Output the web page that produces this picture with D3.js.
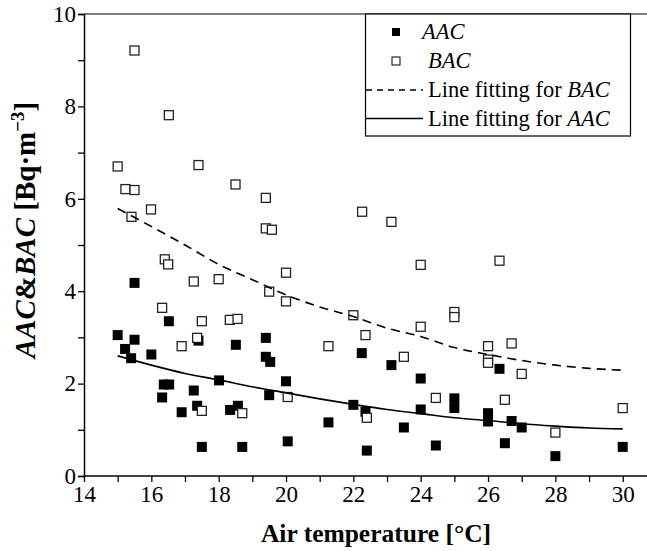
<!DOCTYPE html>
<html>
<head>
<meta charset="utf-8">
<script src="https://cdn.jsdelivr.net/npm/d3@7"></script>
<style>
  body { margin: 0; background: #fff; }
</style>
</head>
<body>
<div id="chart"></div>
<script>
var aacTemp = [15.5, 16.52, 15.0, 15.5, 15.22, 15.4, 16.0, 17.4, 18.51, 19.4, 19.4, 19.53, 16.37, 16.53, 16.32, 17.26, 18.01, 16.9, 17.36, 18.34, 18.57, 19.5, 17.5, 18.7, 20.0, 20.05, 22.25, 23.13, 24.0, 22.0, 22.36, 21.26, 23.5, 24.0, 22.4, 24.45, 25.0, 25.0, 26.34, 26.0, 26.0, 26.7, 27.0, 26.5, 28.0, 30.0];
var aacConc = [4.18, 3.35, 3.05, 2.95, 2.75, 2.55, 2.63, 2.93, 2.84, 2.99, 2.58, 2.47, 1.98, 1.98, 1.70, 1.85, 2.07, 1.38, 1.52, 1.43, 1.52, 1.75, 0.63, 0.63, 2.05, 0.75, 2.66, 2.40, 2.11, 1.54, 1.39, 1.16, 1.05, 1.44, 0.55, 0.66, 1.68, 1.47, 2.32, 1.36, 1.18, 1.19, 1.05, 0.71, 0.43, 0.63];

var bacTemp = [15.5, 16.52, 15.0, 17.4, 15.23, 15.5, 18.5, 15.99, 15.41, 19.4, 19.4, 19.58, 22.26, 23.13, 16.4, 16.5, 17.26, 18.0, 19.5, 16.32, 17.5, 18.33, 18.56, 17.36, 16.9, 17.5, 18.7, 20.0, 20.0, 24.0, 22.0, 22.36, 24.0, 25.0, 25.0, 21.26, 23.5, 20.05, 22.4, 24.45, 26.34, 26.0, 26.0, 26.0, 26.7, 27.0, 26.5, 28.0, 30.0];
var bacConc = [9.21, 7.81, 6.70, 6.73, 6.21, 6.19, 6.31, 5.77, 5.61, 6.02, 5.36, 5.33, 5.72, 5.50, 4.69, 4.58, 4.21, 4.26, 3.99, 3.64, 3.35, 3.38, 3.40, 2.99, 2.81, 1.41, 1.36, 4.40, 3.78, 4.57, 3.48, 3.05, 3.23, 3.55, 3.44, 2.81, 2.58, 1.71, 1.26, 1.69, 4.66, 2.81, 2.52, 2.45, 2.87, 2.21, 1.65, 0.94, 1.47];

// fitted curves, read at each degree
var fitTemp = [15, 16, 17, 18, 19, 20, 21, 22, 23, 24, 25, 26, 27, 28, 29, 30];
var bacFit = [5.79, 5.40, 5.00, 4.58, 4.25, 3.92, 3.66, 3.45, 3.20, 3.02, 2.78, 2.63, 2.50, 2.40, 2.33, 2.29];
var aacFit = [2.60, 2.40, 2.22, 2.08, 1.93, 1.80, 1.67, 1.55, 1.44, 1.35, 1.26, 1.20, 1.13, 1.08, 1.04, 1.02];

var xTicks = [14, 16, 18, 20, 22, 24, 26, 28, 30];
var yTicks = [0, 2, 4, 6, 8, 10];

var draw = function() {
  var width = 647, height = 551;
  var left = 84, plotTop = 14, bottom = 476;
  var serif = "'Liberation Serif', 'Times New Roman', Times, serif";

  var svg = d3.select("#chart").append("svg")
    .attr("width", width)
    .attr("height", height)
    .style("font-family", serif);

  var x = d3.scaleLinear().domain([14, 31]).range([left, left + 17 * 33.67]);
  var y = d3.scaleLinear().domain([0, 10]).range([bottom, plotTop]);

  // top frame line
  svg.append("line")
    .attr("x1", left).attr("x2", width)
    .attr("y1", plotTop).attr("y2", plotTop)
    .attr("stroke", "#555")
    .attr("stroke-width", 1.5);

  // axes
  var xAxis = svg.append("g")
    .attr("transform", "translate(0," + bottom + ")")
    .call(d3.axisBottom(x).tickValues(d3.range(14, 32, 1)).tickSize(6).tickFormat(function(d) {
      return xTicks.indexOf(d) >= 0 ? d : "";
    }));
  xAxis.attr("font-family", null).attr("font-size", null);
  xAxis.select(".domain").attr("stroke-width", 1.5).attr("d", "M" + left + ",0H" + width);
  xAxis.selectAll(".tick line").attr("stroke-width", 1.3);
  xAxis.selectAll(".tick text")
    .style("font-family", serif)
    .style("font-size", "23px")
    .attr("dy", "0.8em")
    .attr("y", 8);

  var yAxis = svg.append("g")
    .attr("transform", "translate(" + left + ",0)")
    .call(d3.axisLeft(y).tickValues(d3.range(0, 11, 1)).tickSize(6).tickFormat(function(d) {
      return yTicks.indexOf(d) >= 0 ? d : "";
    }));
  yAxis.attr("font-family", null).attr("font-size", null);
  yAxis.select(".domain").attr("stroke-width", 1.5);
  yAxis.selectAll(".tick line").attr("stroke-width", 1.3);
  yAxis.selectAll(".tick text")
    .style("font-family", serif)
    .style("font-size", "23px")
    .attr("x", -8);

  // points
  var aac = d3.zip(aacTemp, aacConc);
  var bac = d3.zip(bacTemp, bacConc);

  svg.append("g").selectAll("rect")
    .data(aac)
    .enter()
    .append("rect")
    .attr("x", function(d) { return x(d[0]) - 5; })
    .attr("y", function(d) { return y(d[1]) - 5; })
    .attr("width", 10)
    .attr("height", 10)
    .attr("fill", "#000");

  svg.append("g").selectAll("rect")
    .data(bac)
    .enter()
    .append("rect")
    .attr("x", function(d) { return x(d[0]) - 4.5; })
    .attr("y", function(d) { return y(d[1]) - 4.5; })
    .attr("width", 9)
    .attr("height", 9)
    .attr("fill", "#fff")
    .attr("stroke", "#222")
    .attr("stroke-width", 1.3);

  // fit lines
  var line = d3.line()
    .x(function(d) { return x(d[0]); })
    .y(function(d) { return y(d[1]); })
    .curve(d3.curveMonotoneX);

  svg.append("path")
    .attr("d", line(d3.zip(fitTemp, bacFit)))
    .attr("fill", "none")
    .attr("stroke", "#000")
    .attr("stroke-width", 1.6)
    .attr("stroke-dasharray", "9,6");

  svg.append("path")
    .attr("d", line(d3.zip(fitTemp, aacFit)))
    .attr("fill", "none")
    .attr("stroke", "#000")
    .attr("stroke-width", 1.6);

  // legend
  var legend = svg.append("g");
  legend.append("rect")
    .attr("x", 365.5).attr("y", plotTop)
    .attr("width", 265).attr("height", 122)
    .attr("fill", "#fff")
    .attr("stroke", "#000")
    .attr("stroke-width", 1.2);

  legend.append("rect")
    .attr("x", 392).attr("y", 28)
    .attr("width", 8).attr("height", 8)
    .attr("fill", "#000");
  legend.append("rect")
    .attr("x", 392).attr("y", 57)
    .attr("width", 8).attr("height", 8)
    .attr("fill", "#fff").attr("stroke", "#000").attr("stroke-width", 1);
  legend.append("line")
    .attr("x1", 366).attr("x2", 423).attr("y1", 90).attr("y2", 90)
    .attr("stroke", "#000").attr("stroke-width", 1.4).attr("stroke-dasharray", "6,5");
  legend.append("line")
    .attr("x1", 366).attr("x2", 423).attr("y1", 118.5).attr("y2", 118.5)
    .attr("stroke", "#000").attr("stroke-width", 1.4);

  var legendRows = [
    { y: 39, x: 422, plain: "", ital: "AAC" },
    { y: 68, x: 428, plain: "", ital: "BAC" },
    { y: 97, x: 428, plain: "Line fitting for ", ital: "BAC" },
    { y: 126, x: 428, plain: "Line fitting for ", ital: "AAC" }
  ];
  legendRows.forEach(function(r) {
    var t = legend.append("text")
      .attr("x", r.x).attr("y", r.y)
      .style("font-family", serif)
      .style("font-size", "22.5px");
    if (r.plain) t.append("tspan").text(r.plain);
    t.append("tspan").style("font-style", "italic").text(r.ital);
  });

  // axis titles
  svg.append("text")
    .attr("x", 376).attr("y", 542)
    .attr("text-anchor", "middle")
    .style("font-family", serif)
    .style("font-size", "25.5px")
    .style("font-weight", "bold")
    .text("Air temperature [°C]");

  var yt = svg.append("text")
    .attr("transform", "translate(35,230) rotate(-90)")
    .attr("text-anchor", "middle")
    .style("font-family", serif)
    .style("font-size", "29px")
    .style("font-weight", "bold");
  yt.append("tspan").style("font-style", "italic").text("AAC");
  yt.append("tspan").text("&");
  yt.append("tspan").style("font-style", "italic").text("BAC");
  yt.append("tspan").text(" [Bq·m");
  yt.append("tspan").style("font-size", "19px").attr("dy", "-11").text("−3");
  yt.append("tspan").attr("dy", "11").text("]");
};
draw();
</script>
</body>
</html>
